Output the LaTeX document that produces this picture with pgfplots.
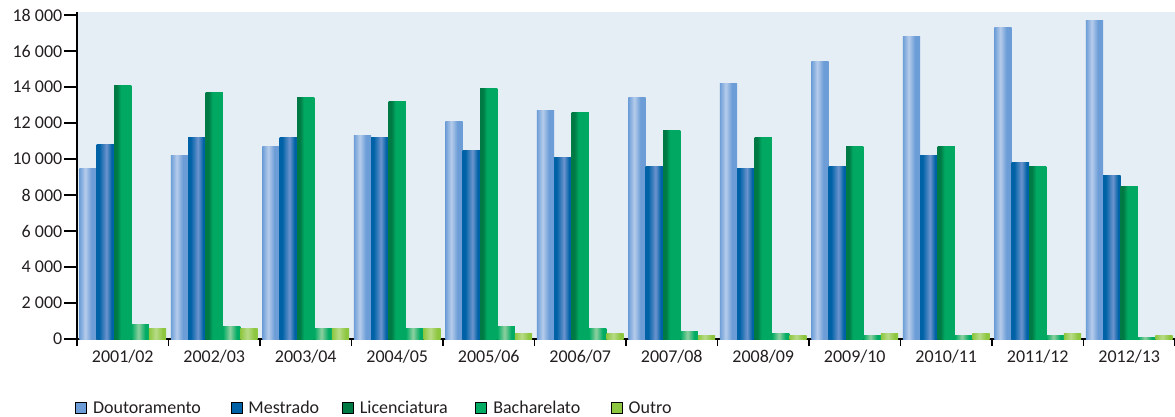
\documentclass[border=0pt]{standalone}
\usepackage{pgfplots}
\pgfplotsset{compat=1.18}
\usepackage{pgfplotstable}
\usepackage{fontspec}
\setmainfont{Carlito}
\definecolor{bgc}{HTML}{E5EDF5}
\definecolor{cD}{HTML}{6C9DD7}
\definecolor{cDl}{HTML}{B6CCEB}
\definecolor{cM}{HTML}{0062A6}
\definecolor{cMl}{HTML}{6C94CE}
\definecolor{cL}{HTML}{00A862}
\definecolor{cLd}{HTML}{007A45}
\definecolor{cB}{HTML}{00AB63}
\definecolor{cBl}{HTML}{8FD0A0}
\definecolor{cO}{HTML}{8DC63F}
\definecolor{cOl}{HTML}{B8DB88}
\definecolor{txt}{HTML}{231F20}
\pgfdeclarehorizontalshading{shD}{100bp}{color(0bp)=(cD); color(25bp)=(cD); color(42bp)=(cDl); color(60bp)=(cD); color(75bp)=(cD); color(100bp)=(cD)}
\pgfdeclarehorizontalshading{shM}{100bp}{color(0bp)=(cM); color(25bp)=(cM); color(32bp)=(cM); color(53bp)=(cMl); color(68bp)=(cM); color(75bp)=(cM); color(100bp)=(cM)}
\pgfdeclarehorizontalshading{shL}{100bp}{color(0bp)=(cLd); color(25bp)=(cLd); color(33bp)=(cLd); color(45bp)=(cL); color(75bp)=(cL); color(100bp)=(cL)}
\pgfdeclarehorizontalshading{shB}{100bp}{color(0bp)=(cB); color(25bp)=(cB); color(45bp)=(cBl); color(65bp)=(cB); color(75bp)=(cB); color(100bp)=(cB)}
\pgfdeclarehorizontalshading{shO}{100bp}{color(0bp)=(cO); color(25bp)=(cO); color(45bp)=(cOl); color(65bp)=(cO); color(75bp)=(cO); color(100bp)=(cO)}
\pgfplotstableread{
x D M L B O
0 9500 10830 14110 780 560
1 10170 11170 13670 670 560
2 10670 11220 13390 560 560
3 11330 11170 13220 560 560
4 12110 10500 13890 670 280
5 12670 10060 12560 610 280
6 13390 9610 11560 440 220
7 14220 9500 11220 280 220
8 15440 9610 10720 220 280
9 16780 10220 10670 220 280
10 17280 9830 9610 170 280
11 17670 9060 8500 110 170
}\data
\begin{document}
\begin{tikzpicture}
\useasboundingbox (0,0) rectangle (1175pt,416pt);
\begin{axis}[
  at={(77pt,77pt)}, anchor=south west,
  scale only axis, width=1098pt, height=327pt,
  xmin=-0.5, xmax=11.5, ymin=0, ymax=18167,
  axis background/.style={fill=bgc},
  axis x line*=bottom, axis y line*=left,
  axis line style={line width=1.6pt, -},
  tick align=outside,
  major tick length=7pt,
  tick style={line width=1.6pt, black},
  ytick={0,2000,...,18000},
  scaled y ticks=false,
  ytick style={/pgfplots/major tick length=13pt},
  xtick={-0.5,0.5,...,11.5},
  xticklabels={},
  extra x ticks={0,1,...,11},
  extra x tick labels={2001/02,2002/03,2003/04,2004/05,2005/06,2006/07,2007/08,2008/09,2009/10,2010/11,2011/12,2012/13},
  extra x tick style={tick style={draw=none}},
  ticklabel style={font=\fontsize{18}{21}\selectfont, text=txt},
  yticklabel style={inner sep=1pt, xshift=-6.5pt},
  /pgf/number format/.cd, 1000 sep={\ }, assume math mode=true,
  /pgfplots/.cd,
  bar width=0.19,
  legend columns=-1,
  legend image code/.code={\fill[#1] (0pt,-5.5pt) rectangle (11pt,5.5pt);},
  legend style={draw=none, fill=none, at={(rel axis cs:0,0)}, anchor=west, xshift=-2pt, yshift=-69pt,
    inner sep=0pt, nodes={inner sep=0pt, font=\fontsize{18}{21}\selectfont, text=txt}, column sep=0pt},
]
\pgfplotsinvokeforeach{0,...,11}{
\addplot[ybar, draw=none, shading=shD, bar shift=-0.38, forget plot, restrict expr to domain={\coordindex}{#1:#1}] table[x=x, y=D] {\data};
\addplot[ybar, draw=none, shading=shM, bar shift=-0.19, forget plot, restrict expr to domain={\coordindex}{#1:#1}] table[x=x, y=M] {\data};
\addplot[ybar, draw=none, shading=shL, bar shift=0, forget plot, restrict expr to domain={\coordindex}{#1:#1}] table[x=x, y=L] {\data};
\addplot[ybar, draw=none, shading=shB, bar shift=0.19, forget plot, restrict expr to domain={\coordindex}{#1:#1}] table[x=x, y=B] {\data};
\addplot[ybar, draw=none, shading=shO, bar shift=0.38, forget plot, restrict expr to domain={\coordindex}{#1:#1}] table[x=x, y=O] {\data};
}
\addlegendimage{fill=cD}
\addlegendentry{\makebox[144pt][l]{\hspace{6.5pt}Doutoramento}}
\addlegendimage{fill=cM}
\addlegendentry{\makebox[100pt][l]{\hspace{6.5pt}Mestrado}}
\addlegendimage{fill=cLd}
\addlegendentry{\makebox[122pt][l]{\hspace{6.5pt}Licenciatura}}
\addlegendimage{fill=cB}
\addlegendentry{\makebox[124pt][l]{\hspace{6.5pt}Bacharelato}}
\addlegendimage{fill=cO}
\addlegendentry{\makebox[60pt][l]{\hspace{6.5pt}Outro}}
\end{axis}
\end{tikzpicture}
\end{document}
